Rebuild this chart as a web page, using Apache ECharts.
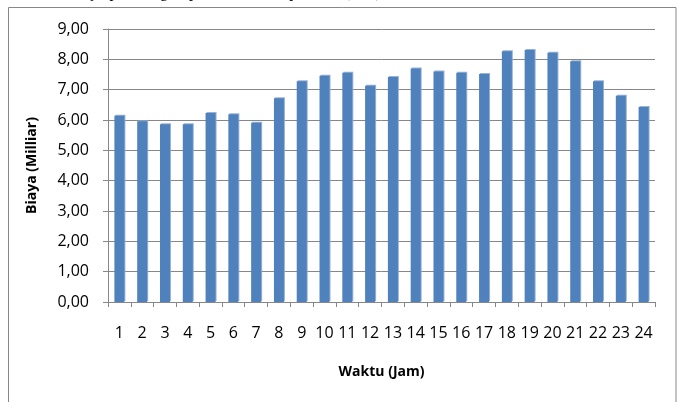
<!DOCTYPE html>
<html>
<head>
<meta charset="utf-8">
<script src="https://cdn.jsdelivr.net/npm/echarts@6/dist/echarts.min.js"></script>
<style>
  html, body { margin: 0; padding: 0; background: #ffffff; }
  #chart { width: 678px; height: 402px; }
</style>
</head>
<body>
<div id="chart"></div>
<script>
// Hourly generation cost (billions of rupiah) for hours 1..24
const hours = ['1','2','3','4','5','6','7','8','9','10','11','12','13','14','15','16','17','18','19','20','21','22','23','24'];
const cost = [6.14, 5.96, 5.86, 5.86, 6.23, 6.19, 5.91, 6.72, 7.28, 7.46, 7.56, 7.13,
              7.42, 7.70, 7.60, 7.56, 7.52, 8.27, 8.31, 8.22, 7.94, 7.28, 6.80, 6.43];
const yTicks = [0, 1, 2, 3, 4, 5, 6, 7, 8, 9];

const gray = '#878787';
const fontFamily = '"Open Sans", "Noto Sans", sans-serif';

const chart = echarts.init(document.getElementById('chart'), null, { renderer: 'canvas' });

chart.setOption({
  animation: false,
  backgroundColor: '#ffffff',
  graphic: [
    {
      // chart frame
      type: 'rect',
      shape: { x: 8.5, y: 7.5, width: 667.5, height: 420 },
      style: { fill: 'none', stroke: gray, lineWidth: 1 },
      silent: true
    },
    {
      // caption line above the frame (only its lower edge falls inside the page)
      type: 'text',
      x: 25,
      y: 1,
      style: {
        text: 'Grafik biaya pembangkit per hari terhadap waktu (Jam)',
        font: '16px "Liberation Serif", "DejaVu Serif", serif',
        fill: '#000000',
        verticalAlign: 'bottom'
      },
      silent: true
    }
  ],
  grid: { left: 108, right: 23, top: 29, bottom: 100, containLabel: false },
  xAxis: {
    type: 'category',
    data: hours,
    boundaryGap: true,
    name: 'Waktu (Jam)',
    nameLocation: 'middle',
    nameGap: 63,
    nameTextStyle: { fontFamily: fontFamily, fontWeight: 'bold', fontSize: 14, color: '#000' },
    axisLine: { lineStyle: { color: gray, width: 1 } },
    axisTick: { show: true, alignWithLabel: false, length: 5, lineStyle: { color: gray } },
    axisLabel: { color: '#000', fontFamily: fontFamily, fontSize: 16, margin: 23, interval: 0 },
    splitLine: { show: false }
  },
  yAxis: {
    type: 'value',
    min: 0,
    max: 9,
    interval: 1,
    name: 'Biaya (Milliar)',
    nameLocation: 'middle',
    nameGap: 69,
    nameRotate: 90,
    nameTextStyle: { fontFamily: fontFamily, fontWeight: 'bold', fontSize: 14, color: '#000' },
    axisLine: { show: true, lineStyle: { color: gray, width: 1 } },
    axisTick: { show: true, length: 5, lineStyle: { color: gray } },
    axisLabel: {
      color: '#000',
      fontFamily: fontFamily,
      fontSize: 16,
      margin: 19,
      formatter: function (v) {
        return yTicks.indexOf(v) >= 0 ? v.toFixed(2).replace('.', ',') : '';
      }
    },
    splitLine: { show: true, lineStyle: { color: gray, width: 1 } }
  },
  series: [
    {
      type: 'bar',
      data: cost,
      barWidth: 10,
      itemStyle: {
        color: '#4F81BD',
        shadowColor: 'rgba(140,170,210,0.9)',
        shadowOffsetX: 1,
        shadowOffsetY: -1,
        shadowBlur: 0
      },
      emphasis: { disabled: true }
    }
  ]
});
</script>
</body>
</html>
